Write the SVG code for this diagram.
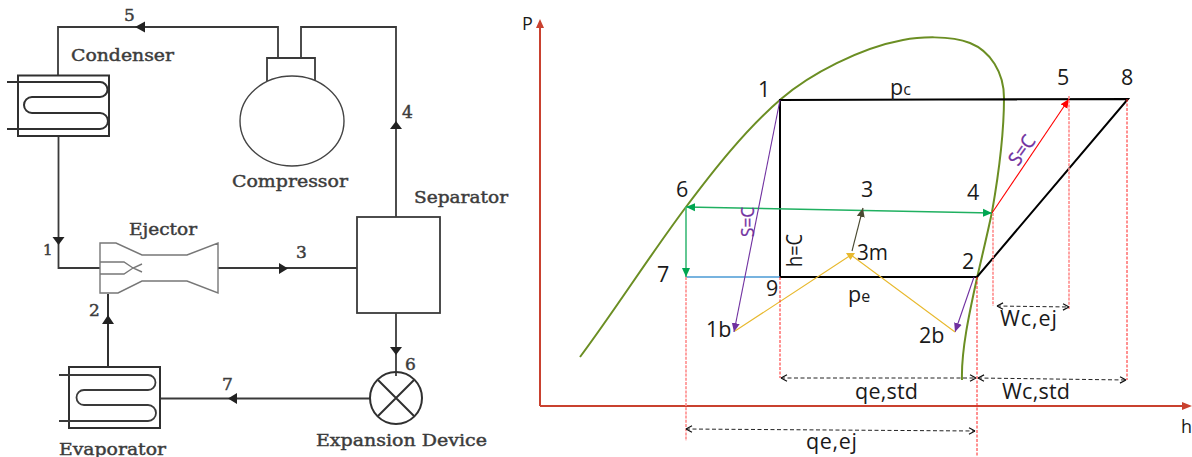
<svg xmlns="http://www.w3.org/2000/svg" width="1192" height="457" viewBox="0 0 1192 457">
<style>
.p{fill:none;stroke:#3a3a3a;stroke-width:1.8}
.b{fill:none;stroke:#303030;stroke-width:2}
.t{fill:none;stroke:#777;stroke-width:1.4}
.a{fill:#222;stroke:none}
.s{font-family:"DejaVu Serif",serif;font-weight:400;fill:#3c3c3c;stroke:#3c3c3c;stroke-width:.45;font-size:17px}
.n{font-family:"Open Sans","Noto Sans",sans-serif;fill:#1a1a1a;font-size:21.5px}
.l{font-family:"Open Sans","Noto Sans",sans-serif;fill:#7030a0;font-size:19px;stroke:#7030a0;stroke-width:.3}
.k{fill:none;stroke:#000;stroke-width:2}
.r{fill:none;stroke:#f22;stroke-width:1;stroke-dasharray:3 1.5}
.q{fill:none;stroke:#ff8c8c;stroke-width:1.6;stroke-dasharray:3 1.2}
.d{fill:none;stroke:#222;stroke-width:1;stroke-dasharray:4 2.5}
</style>
<defs>
<marker id="mb" markerWidth="8" markerHeight="8" refX="7" refY="4" orient="auto-start-reverse" markerUnits="userSpaceOnUse"><path d="M7 4L1 .8M7 4L1 7.2" fill="none" stroke="#111" stroke-width="1.2"/></marker>
<marker id="mg" markerWidth="10" markerHeight="10" refX="9" refY="5" orient="auto-start-reverse" markerUnits="userSpaceOnUse"><path d="M0 1L9 5L0 9z" fill="#00a651"/></marker>
<marker id="mp" markerWidth="10" markerHeight="10" refX="9" refY="5" orient="auto" markerUnits="userSpaceOnUse"><path d="M0 1L9 5L0 9z" fill="#7030a0"/></marker>
<marker id="mr" markerWidth="10" markerHeight="10" refX="9" refY="5" orient="auto" markerUnits="userSpaceOnUse"><path d="M0 1L9 5L0 9z" fill="#f00"/></marker>
<marker id="md" markerWidth="10" markerHeight="10" refX="9" refY="5" orient="auto" markerUnits="userSpaceOnUse"><path d="M0 1L9 5L0 9z" fill="#4a4a32"/></marker>
</defs>

<g id="connectors">
<path class="p" d="M58 75V27H278V58M301 58V27H396V217"/>
<path class="p" d="M58.500 136V268H100"/>
<path class="b" d="M108 294V367"/>
<path class="p" d="M218 268H357"/>
<path class="p" d="M396 313V376"/>
<path class="p" d="M370 398.500H160"/>
<path class="a" d="M135 27l10-5.500v11zM52.500 237h12L58.500 245zM102 324l6-9 6 9zM390 129l6-8 6 8zM279 263v11l9-5.500zM390 347h12l-6 8zM237 393v11l-9-5.500z"/>
</g>
<g id="condenser">
<rect class="b" x="18" y="75.500" width="91" height="60.500"/>
<path class="b" d="M7 82H100a7.500 7.500 0 0 1 0 15H32a8 8 0 0 0 0 16H100a8 8 0 0 1 0 16H7"/>
<text class="s" x="71" y="61" textLength="103" lengthAdjust="spacingAndGlyphs">Condenser</text>
</g>
<g id="compressor">
<path class="p" d="M267 81V58H315V81"/>
<ellipse cx="292" cy="121" rx="52" ry="45" fill="none" stroke="#444" stroke-width="1.400"/>
<text class="s" x="232" y="187" textLength="116" lengthAdjust="spacingAndGlyphs">Compressor</text>
</g>
<g id="separator">
<rect class="p" x="357" y="217" width="83" height="96"/>
<text class="s" x="414" y="203" textLength="94" lengthAdjust="spacingAndGlyphs">Separator</text>
</g>
<g id="ejector">
<path class="t" d="M100 243H116L142 255H187L218 243V293L187 281H142L118 293H100Z"/>
<path class="t" d="M100 262H124L133 268L142 272M100 274H124L133 268L142 264"/>
<text class="s" x="129" y="235" textLength="68" lengthAdjust="spacingAndGlyphs">Ejector</text>
</g>
<g id="evaporator">
<rect class="b" x="69" y="367" width="91" height="61"/>
<path class="p" d="M59 375H148a7.500 7.500 0 0 1 0 15H84a7.500 7.500 0 0 0 0 15H148a8 8 0 0 1 0 16H59"/>
<text class="s" x="59" y="455" textLength="107" lengthAdjust="spacingAndGlyphs">Evaporator</text>
</g>
<g id="expansion">
<circle class="b" cx="396" cy="398" r="26"/>
<path class="b" d="M378 380L414 416M414 380L378 416"/>
<text class="s" x="316" y="446" textLength="171" lengthAdjust="spacingAndGlyphs">Expansion Device</text>
</g>
<g id="numbers">
<text class="s" x="124" y="21">5</text><text class="s" x="43" y="255" style="font-size:15px">1</text><text class="s" x="89" y="316">2</text>
<text class="s" x="296" y="258">3</text><text class="s" x="402" y="118">4</text><text class="s" x="405" y="370">6</text><text class="s" x="222" y="390">7</text>
</g>

<g id="axes">
<path d="M540 406V26M540 406H1186" fill="none" stroke="#c9412f" stroke-width="2"/>
<path d="M540 19l-4 9h8zM1192 406l-10-4v8z" fill="#c9412f"/>
<text class="n" x="522" y="30" style="font-size:18px">P</text>
<text class="n" x="1181" y="433" style="font-size:18px">h</text>
</g>
<g id="saturation">
<path d="M580 357C615 310 650 255 686 207C713 171 745 130 781 99C810 74 860 48 903 40C918 37 950 35 970 43C990 51 1004 72 1004 98C1004 140 998 178 992 212C987 236 982 256 977 278C970 310 961 350 962 380" fill="none" stroke="#6b8e23" stroke-width="2"/>
</g>
<g id="cycle">
<path class="k" d="M780 100L1128 99L977 277H780Z"/>
<path d="M686 277H780" stroke="#4a9ad4" stroke-width="1.300"/>
<path d="M686 207L992 213" stroke="#1fb060" stroke-width="1.400" marker-start="url(#mg)" marker-end="url(#mg)"/>
<path d="M686 207V277" stroke="#3dba78" stroke-width="1.600" marker-end="url(#mg)"/>
<path d="M780 100L734 332" stroke="#7030a0" stroke-width="1.100" marker-end="url(#mp)"/>
<path d="M974 277L955 332" stroke="#7030a0" stroke-width="1.100" marker-end="url(#mp)"/>
<path d="M735 331L851 255M955 332L851 255" fill="none" stroke="#e8b92e" stroke-width="1.100"/>
<path d="M846 253H855L850.500 260Z" fill="#e8b92e"/>
<path d="M852 251L863 208" stroke="#4a4a32" stroke-width="1.100" marker-end="url(#md)"/>
<path d="M992 213L1069 99" stroke="#f00" stroke-width="1.100" marker-end="url(#mr)"/>
</g>
<g id="guides">
<path class="q" d="M686 277V441M993 213V306M1069 96V310"/>
<path class="r" d="M780 277V378M977 277V457M1127 99V380"/>
<path class="d" d="M781 378H976" marker-start="url(#mb)" marker-end="url(#mb)"/>
<path class="d" d="M978 378L1126 380" marker-start="url(#mb)" marker-end="url(#mb)"/>
<path class="d" d="M686 429L975 431" marker-start="url(#mb)" marker-end="url(#mb)"/>
<path class="d" d="M997 306L1069 307" marker-start="url(#mb)" marker-end="url(#mb)"/>
</g>
<g id="labels">
<text class="n" x="758" y="97">1</text>
<text class="n" x="1057" y="85">5</text>
<text class="n" x="1121" y="85">8</text>
<text class="n" x="676" y="197">6</text>
<text class="n" x="861" y="197">3</text>
<text class="n" x="967" y="200">4</text>
<text class="n" x="657" y="282">7</text>
<text class="n" x="766" y="296">9</text>
<text class="n" x="857" y="260" textLength="31" lengthAdjust="spacingAndGlyphs">3m</text>
<text class="n" x="962" y="269">2</text>
<text class="n" x="706" y="337">1b</text>
<text class="n" x="919" y="343">2b</text>
<text class="n" x="890" y="95">p<tspan style="font-size:16px">c</tspan></text>
<text class="n" x="848" y="302">p<tspan style="font-size:16px">e</tspan></text>
<text class="n" x="855" y="399" textLength="63">qe,std</text>
<text class="n" x="1002" y="399" textLength="68">Wc,std</text>
<text class="n" x="1000" y="326" textLength="57">Wc,ej</text>
<text class="n" x="806" y="449" textLength="51">qe,ej</text>
<text class="n" transform="translate(802 267) rotate(-90)" textLength="33" lengthAdjust="spacingAndGlyphs">h=C</text>
<text class="l" transform="translate(754 237) rotate(-90)" textLength="30" lengthAdjust="spacingAndGlyphs">S=C</text>
<text class="l" transform="translate(1018 167) rotate(-55)" textLength="32" lengthAdjust="spacingAndGlyphs">S=C</text>
</g>
</svg>
